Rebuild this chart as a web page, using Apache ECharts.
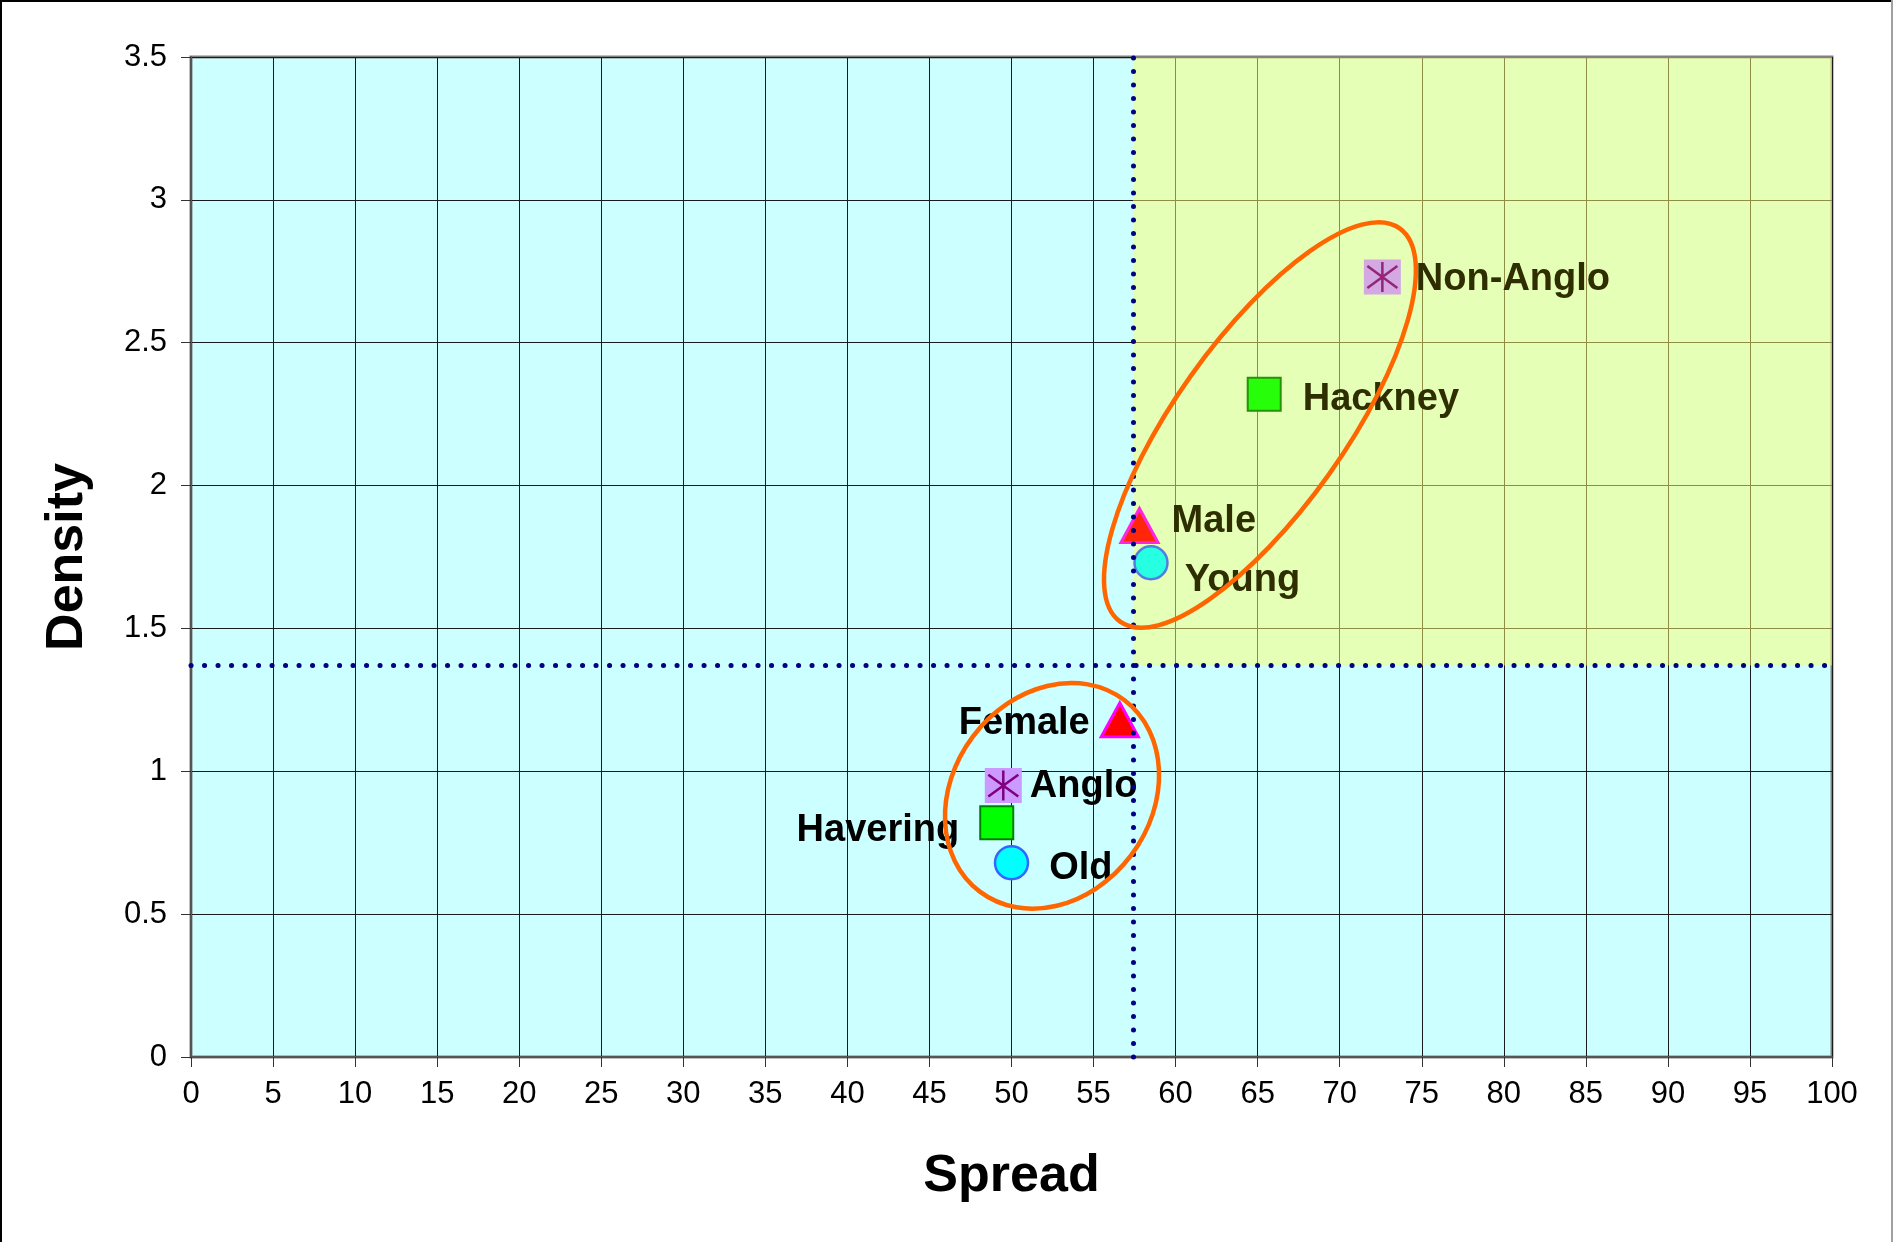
<!DOCTYPE html>
<html>
<head>
<meta charset="utf-8">
<script src="https://cdn.jsdelivr.net/npm/echarts@6/dist/echarts.min.js"></script>
<style>
  html, body { margin: 0; padding: 0; background: #ffffff; }
  #chart { width: 1893px; height: 1242px; }
</style>
</head>
<body>
<div id="chart"></div>
<script>
// Groups plotted by spread (x) against density (y)
const boroughNames = ['Hackney', 'Havering'];
const boroughSpread = [65.4, 49.1];
const boroughDensity = [2.32, 0.82];

const genderNames = ['Male', 'Female'];
const genderSpread = [57.8, 56.6];
const genderDensity = [1.86, 1.18];

const ageNames = ['Young', 'Old'];
const ageSpread = [58.5, 50.0];
const ageDensity = [1.73, 0.68];

const ethnicityNames = ['Non-Anglo', 'Anglo'];
const ethnicitySpread = [72.6, 49.5];
const ethnicityDensity = [2.73, 0.95];

// Dividing lines for the quadrants
const spreadCut = 57.4;
const densityCut = 1.37;

// Axis ranges and tick steps
const spreadTicks = [0, 100, 5];
const densityTicks = [0, 3.5, 0.5];

// Cluster ellipses: centre (spread, density), semi-axes in spread units, tilt in degrees
const ellipseSpread = [65.14, 52.47];
const ellipseDensity = [2.212, 0.914];
const ellipseMajor = [14.7, 7.31];
const ellipseMinor = [5.17, 6.03];
const ellipseTilt = [54.6, 53];

// Where each point's name sits beside its marker
const labelPlacement = {
  'Hackney':   { position: 'right', distance: 21, offset: [0, 5] },
  'Havering':  { position: 'left',  distance: 20, offset: [0, 8] },
  'Male':      { position: 'right', distance: 12, offset: [0, -4] },
  'Female':    { position: 'left',  distance: 10, offset: [0, 4] },
  'Young':     { position: 'right', distance: 16, offset: [0, 18] },
  'Old':       { position: 'right', distance: 20, offset: [0, 6] },
  'Non-Anglo': { position: 'right', distance: 15, offset: [0, 3] },
  'Anglo':     { position: 'right', distance: 8,  offset: [0, 1] }
};

const FONT = 'Liberation Sans, Arial, Helvetica, sans-serif';
const QUADRANT_TEXT = '#2e2e00';

function inQuadrant(x, y) {
  return x > spreadCut && y > densityCut;
}

// blend a marker colour slightly towards yellow where it sits in the shaded quadrant
function tint(hex) {
  const n = parseInt(hex.slice(1), 16);
  const r = (n >> 16) & 255, g = (n >> 8) & 255, b = n & 255;
  const k = 0.15;
  const mix = (c, t) => Math.round(c * (1 - k) + t * k);
  return 'rgb(' + mix(r, 255) + ',' + mix(g, 255) + ',' + mix(b, 60) + ')';
}

function points(names, xs, ys, fill, border, withLabels) {
  return names.map((n, i) => {
    const q = inQuadrant(xs[i], ys[i]);
    const item = {
      name: n,
      value: [xs[i], ys[i]],
      itemStyle: {
        color: fill === 'transparent' ? fill : (q ? tint(fill) : fill),
        borderColor: border ? (q ? tint(border) : border) : undefined
      }
    };
    if (withLabels) {
      item.label = Object.assign({
        show: true,
        formatter: '{b}',
        fontFamily: FONT,
        fontWeight: 'bold',
        fontSize: 38,
        color: q ? QUADRANT_TEXT : '#000000'
      }, labelPlacement[n]);
    }
    return item;
  });
}

const ellipseData = ellipseSpread.map((x, i) =>
  [x, ellipseDensity[i], ellipseMajor[i], ellipseMinor[i], ellipseTilt[i]]);

const chart = echarts.init(document.getElementById('chart'), null, { renderer: 'canvas' });

const tickFont = { fontFamily: FONT, fontSize: 31, color: '#000000' };
const titleFont = { fontFamily: FONT, fontWeight: 'bold', fontSize: 52, color: '#000000' };

chart.setOption({
  animation: false,
  backgroundColor: '#ffffff',
  grid: {
    left: 191, top: 57, right: 61, bottom: 185,
    show: true,
    backgroundColor: '#CCFFFF',
    borderColor: '#808080',
    borderWidth: 3
  },
  xAxis: {
    type: 'value',
    min: spreadTicks[0], max: spreadTicks[1], interval: spreadTicks[2],
    name: 'Spread',
    nameLocation: 'middle',
    nameGap: 94,
    nameTextStyle: titleFont,
    axisLine: { show: true, onZero: false, lineStyle: { color: '#555555', width: 2 } },
    axisTick: { show: true, length: 10, lineStyle: { color: '#333333', width: 1 } },
    axisLabel: Object.assign({ margin: 22 }, tickFont),
    splitLine: { show: true, lineStyle: { color: '#1a1a1a', width: 1 } }
  },
  yAxis: {
    type: 'value',
    min: densityTicks[0], max: densityTicks[1], interval: densityTicks[2],
    name: 'Density',
    nameLocation: 'middle',
    nameGap: 97,
    nameTextStyle: titleFont,
    axisLine: { show: true, onZero: false, lineStyle: { color: '#555555', width: 2 } },
    axisTick: { show: true, length: 10, lineStyle: { color: '#333333', width: 1 } },
    axisLabel: Object.assign({ margin: 24 }, tickFont),
    splitLine: { show: true, lineStyle: { color: '#1a1a1a', width: 1 } }
  },
  graphic: [
    { type: 'line', shape: { x1: 0, y1: 1, x2: 1893, y2: 1 }, style: { stroke: '#000000', lineWidth: 2 }, silent: true },
    { type: 'line', shape: { x1: 1, y1: 0, x2: 1, y2: 1242 }, style: { stroke: '#000000', lineWidth: 2 }, silent: true },
    { type: 'line', shape: { x1: 1892, y1: 0, x2: 1892, y2: 1242 }, style: { stroke: '#a0a0a0', lineWidth: 2 }, silent: true }
  ],
  series: [
    {
      // high-spread, high-density quadrant, shaded over the grid
      name: 'Quadrant', type: 'scatter', z: 1, data: [],
      markArea: {
        silent: true,
        itemStyle: { color: 'rgba(255,255,110,0.5)' },
        data: [[{ coord: [spreadCut, densityCut] }, { coord: [spreadTicks[1], densityTicks[1]] }]]
      }
    },
    {
      name: 'Borough', type: 'scatter', z: 2,
      symbol: 'rect', symbolSize: 33,
      itemStyle: { borderWidth: 2, opacity: 1 },
      emphasis: { disabled: true },
      data: points(boroughNames, boroughSpread, boroughDensity, '#00FF00', '#008000', true)
    },
    {
      name: 'Gender', type: 'scatter', z: 2,
      symbol: 'triangle', symbolSize: [37, 34],
      itemStyle: { borderWidth: 3, opacity: 1 },
      emphasis: { disabled: true },
      data: points(genderNames, genderSpread, genderDensity, '#FF0000', '#FF00FF', true)
    },
    {
      name: 'Age', type: 'scatter', z: 2,
      symbol: 'circle', symbolSize: 33,
      itemStyle: { borderWidth: 2.5, opacity: 1 },
      emphasis: { disabled: true },
      data: points(ageNames, ageSpread, ageDensity, '#00FFFF', '#3366FF', true)
    },
    {
      name: 'Ethnicity', type: 'scatter', z: 2,
      symbol: 'rect', symbolSize: [37, 35],
      itemStyle: { borderWidth: 0, opacity: 1 },
      emphasis: { disabled: true },
      data: points(ethnicityNames, ethnicitySpread, ethnicityDensity, '#CC99FF', null, true)
    },
    {
      name: 'Ethnicity star', type: 'scatter', z: 2,
      symbol: 'path://M3,3L19,19M19,3L3,19M11,0L11,22',
      symbolSize: 30,
      itemStyle: { borderWidth: 2.5, opacity: 1 },
      emphasis: { disabled: true },
      data: points(ethnicityNames, ethnicitySpread, ethnicityDensity, 'transparent', '#800080', false)
    },
    {
      name: 'Cuts', type: 'scatter', z: 4, data: [],
      markLine: {
        silent: true,
        symbol: ['none', 'none'],
        label: { show: false },
        lineStyle: { color: '#000080', width: 5, type: [0.1, 13.4], cap: 'round', opacity: 1 },
        data: [
          [{ coord: [spreadCut, densityTicks[0]] }, { coord: [spreadCut, densityTicks[1]] }],
          [{ coord: [spreadTicks[0], densityCut] }, { coord: [spreadTicks[1], densityCut] }]
        ]
      }
    },
    {
      name: 'Clusters', type: 'custom', z: 5, silent: true,
      data: ellipseData,
      renderItem: function (params, api) {
        const c = api.coord([api.value(0), api.value(1)]);
        const unit = api.size([1, 0])[0];
        return {
          type: 'ellipse',
          x: c[0], y: c[1],
          rotation: api.value(4) * Math.PI / 180,
          shape: { cx: 0, cy: 0, rx: api.value(2) * unit, ry: api.value(3) * unit },
          style: { fill: 'none', stroke: '#FF6600', lineWidth: 4.5 }
        };
      }
    }
  ]
});
</script>
</body>
</html>
